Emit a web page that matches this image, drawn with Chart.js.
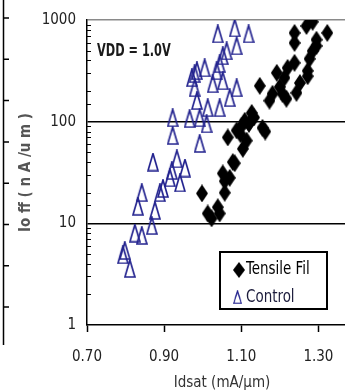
<!DOCTYPE html>
<html>
<head>
<meta charset="utf-8">
<script src="https://cdn.jsdelivr.net/npm/chart.js@4"></script>
<style>
html, body { margin: 0; padding: 0; background: #fff; overflow: hidden; }
#wrap { position: relative; width: 365px; height: 392px; }
</style>
</head>
<body>
<div id="wrap"><canvas id="myChart"></canvas></div>
<script>
// Tensile Fil (filled diamonds): Idsat (mA/um) vs Ioff (nA/um)
const tensileX = [1.285, 1.269, 1.323, 1.238, 1.238, 1.285, 1.295, 1.277, 1.272, 1.238, 1.220, 1.192, 1.212, 1.148, 1.181,
                  1.207, 1.243, 1.173, 1.217, 1.127, 1.109, 1.101, 1.155, 1.088, 1.065, 1.114, 1.104, 1.083, 1.052, 1.057,
                  1.057, 0.998, 1.039, 1.013, 1.023, 1.044, 1.070, 1.078, 1.272, 1.295, 1.133, 1.120, 1.162, 1.098, 1.252, 1.200];
const tensileY = [960, 873, 747, 747, 595, 496, 556, 415, 316, 379, 338, 302, 270, 225, 188,
                  188, 192, 161, 168, 122, 102, 91, 87, 82, 70, 65, 54, 39, 31, 26,
                  20, 19.7, 14.4, 12.5, 11.2, 12.5, 28, 40, 280, 640, 110, 95, 80, 75, 240, 220];

// Control (open triangles)
const controlX = [1.039, 1.083, 1.119, 1.088, 1.062, 0.985, 1.005, 0.972, 1.036, 1.044, 1.026, 1.052, 1.088, 0.979, 0.985,
                  1.070, 1.044, 0.922, 0.966, 0.992, 1.010, 0.922, 0.992, 0.871, 0.933, 0.920, 0.954, 0.941, 0.897, 0.842,
                  0.832, 0.876, 0.868, 0.842, 0.824, 0.798, 0.811, 0.793, 0.915, 0.889, 1.052, 0.979, 1.013];
const controlY = [730, 835, 730, 556, 496, 316, 338, 270, 316, 371, 236, 252, 215, 215, 161,
                  172, 137, 109, 107, 109, 95, 73, 61, 40, 43, 33, 35, 25, 22, 20,
                  14.7, 13.4, 9.5, 7.6, 8.0, 5.4, 3.6, 4.9, 28, 20, 444, 296, 137];

const seriesNames = ['Tensile Fil', 'Control'];
const xTickValues = [0.70, 0.90, 1.10, 1.30];
const yTickLabels = [1, 10, 100, 1000];

const narrow = "'Liberation Sans Narrow', 'DejaVu Sans Condensed', 'Liberation Sans', sans-serif";

function makeTriangle(w, h, color) {
    const c = document.createElement('canvas');
    c.width = w; c.height = h;
    const g = c.getContext('2d');
    g.strokeStyle = color;
    g.lineWidth = 1.7;
    g.beginPath();
    g.moveTo(w / 2, 1);
    g.lineTo(w - 1, h - 1);
    g.lineTo(1, h - 1);
    g.closePath();
    g.stroke();
    return c;
}

function makeDiamond(w, h, color) {
    const c = document.createElement('canvas');
    c.width = w; c.height = h;
    const g = c.getContext('2d');
    g.fillStyle = color;
    g.beginPath();
    g.moveTo(w / 2, 0);
    g.lineTo(w, h / 2);
    g.lineTo(w / 2, h);
    g.lineTo(0, h / 2);
    g.closePath();
    g.fill();
    return c;
}

const diamondImg = makeDiamond(12, 18, '#000');
const triangleImg = makeTriangle(12, 19, '#23238f');

// squeeze text horizontally, the source font is a narrow one
function narrowText(ctx, text, x, y, sx) {
    ctx.save();
    ctx.translate(x, y);
    ctx.scale(sx, 1);
    ctx.fillText(text, 0, 0);
    ctx.restore();
}

// extra drawing: inside minor ticks, VDD note, boxed legend, edge of the neighbour plot
const decor = {
    id: 'decor',
    afterDraw(chart) {
        const ctx = chart.ctx;
        const y = chart.scales.y;
        const area = chart.chartArea;
        ctx.save();

        // minor ticks on the log axis
        ctx.strokeStyle = '#000';
        ctx.lineWidth = 1;
        y.ticks.forEach(t => {
            if (yTickLabels.includes(t.value)) return;
            const py = Math.round(y.getPixelForValue(t.value)) + 0.5;
            ctx.beginPath();
            ctx.moveTo(area.left, py);
            ctx.lineTo(area.left + 4, py);
            ctx.stroke();
        });

        // left edge of neighbouring chart
        ctx.lineWidth = 1.5;
        ctx.beginPath();
        ctx.moveTo(3.5, 0);
        ctx.lineTo(3.5, 345);
        for (let k = 0; k < 8; k++) {
            const py = 18 + k * 41.3;
            ctx.moveTo(3, py);
            ctx.lineTo(9, py);
        }
        ctx.stroke();

        // VDD note
        ctx.fillStyle = '#1a1a1a';
        ctx.font = 'bold 17px ' + narrow;
        ctx.textBaseline = 'middle';
        ctx.textAlign = 'left';
        narrowText(ctx, 'VDD = 1.0V', 97, 52, 0.74);

        // legend
        ctx.strokeStyle = '#000';
        ctx.lineWidth = 2;
        ctx.strokeRect(220, 252, 107, 57);
        ctx.font = '17px ' + narrow;
        ctx.fillStyle = '#000';
        ctx.drawImage(diamondImg, 233, 262, 12, 16);
        narrowText(ctx, seriesNames[0], 246, 270, 0.88);
        ctx.drawImage(triangleImg, 233, 290, 9, 14);
        ctx.fillStyle = '#1c1c3c';
        narrowText(ctx, seriesNames[1], 246, 298, 0.88);

        ctx.restore();
    }
};

const ctx = document.getElementById('myChart').getContext('2d');
new Chart(ctx, {
    type: 'scatter',
    data: {
        datasets: [{
            label: seriesNames[0],
            data: tensileX.map((x, i) => ({x: x, y: tensileY[i]})),
            pointStyle: diamondImg,
            pointRadius: 7
        }, {
            label: seriesNames[1],
            data: controlX.map((x, i) => ({x: x, y: controlY[i]})),
            pointStyle: triangleImg,
            pointRadius: 7
        }]
    },
    options: {
        responsive: true,
        maintainAspectRatio: false,
        animation: false,
        layout: { padding: { left: 0, top: 19, right: 8, bottom: 0 } },
        plugins: {
            legend: { display: false },
            tooltip: { enabled: false }
        },
        scales: {
            x: {
                type: 'linear',
                min: 0.70,
                max: 1.40,
                afterBuildTicks: s => { s.ticks = xTickValues.map(v => ({value: v})); },
                afterFit: s => { s.height = 67; },
                border: { color: '#000', width: 1.5 },
                grid: { drawOnChartArea: false, drawTicks: true, tickLength: 7, tickColor: '#000', tickWidth: 1.5 },
                ticks: {
                    color: '#222',
                    font: { family: narrow, size: 15 },
                    padding: 16,
                    maxRotation: 0,
                    autoSkip: false,
                    callback: v => v.toFixed(2)
                },
                title: {
                    display: true,
                    text: 'Idsat (mA/µm)',
                    color: '#333',
                    font: { family: narrow, size: 15 },
                    padding: { top: 0, bottom: 0 }
                }
            },
            y: {
                type: 'logarithmic',
                min: 1,
                max: 1000,
                afterFit: s => { s.width = 87; },
                border: { color: '#000', width: 1.5 },
                grid: {
                    drawTicks: false,
                    lineWidth: 1.5,
                    color: c => {
                        const v = c.tick ? c.tick.value : null;
                        if (v === 1000) return '#8a8a8a';
                        if (v === 10 || v === 100) return '#000';
                        return 'rgba(0,0,0,0)';
                    }
                },
                ticks: {
                    color: '#222',
                    font: { family: narrow, size: 15 },
                    padding: 11,
                    autoSkip: false,
                    callback: v => yTickLabels.includes(v) ? String(v) : ''
                },
                title: {
                    display: true,
                    text: 'Io ff ( n A /u m )',
                    color: '#555',
                    font: { family: narrow, size: 15, weight: 'bold' },
                    padding: { top: 17, bottom: 0 }
                }
            }
        }
    },
    plugins: [decor]
});
</script>
</body>
</html>
